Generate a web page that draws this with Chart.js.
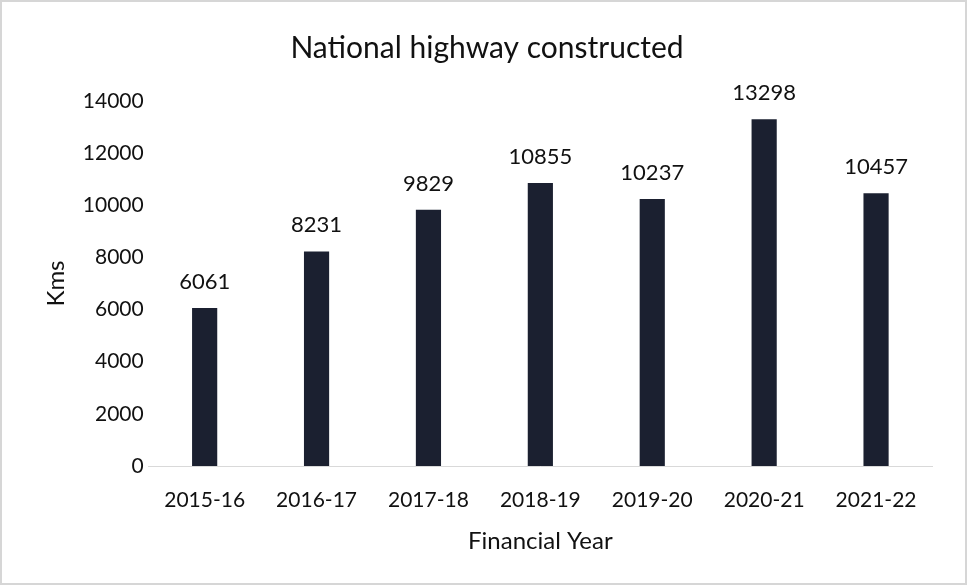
<!DOCTYPE html>
<html>
<head>
<meta charset="utf-8">
<script src="https://cdn.jsdelivr.net/npm/chart.js@4"></script>
<style>
  html, body { margin: 0; padding: 0; background: #fff; }
  #wrap { position: relative; width: 963px; height: 581px; border: 2px solid #d6d6d6; }
</style>
</head>
<body>
<div id="wrap"><canvas id="hwChart"></canvas></div>
<script>
// Chart data
const years = ['2015-16', '2016-17', '2017-18', '2018-19', '2019-20', '2020-21', '2021-22'];
const kmsBuilt = [6061, 8231, 9829, 10855, 10237, 13298, 10457];
const yTicks = [0, 2000, 4000, 6000, 8000, 10000, 12000, 14000];

const FONT = 'Lato, "Open Sans", sans-serif';
const INK = '#111111';

// draw the value above each bar
const valueLabels = {
    id: 'valueLabels',
    afterDatasetsDraw(chart) {
        const ctx = chart.ctx;
        const meta = chart.getDatasetMeta(0);
        ctx.save();
        ctx.font = '22px ' + FONT;
        ctx.fillStyle = INK;
        ctx.textAlign = 'center';
        ctx.textBaseline = 'bottom';
        meta.data.forEach((bar, i) => {
            ctx.fillText(String(kmsBuilt[i]), bar.x, bar.y - 15);
        });
        ctx.restore();
    }
};

new Chart(document.getElementById('hwChart'), {
    type: 'bar',
    data: {
        labels: years,
        datasets: [{
            label: 'Kms',
            data: kmsBuilt,
            backgroundColor: '#1b2030',
            borderWidth: 0,
            barPercentage: 0.225,
            categoryPercentage: 1
        }]
    },
    options: {
        responsive: true,
        maintainAspectRatio: false,
        animation: false,
        layout: { padding: { top: 28, right: 33, bottom: 27, left: 40 } },
        plugins: {
            legend: { display: false },
            tooltip: { enabled: false },
            title: {
                display: true,
                text: 'National highway constructed',
                color: INK,
                font: { family: FONT, size: 30, weight: 'normal' },
                padding: { top: 0, bottom: 35 }
            }
        },
        scales: {
            x: {
                grid: { display: false },
                border: { display: true, color: '#d9d9d9', width: 1 },
                ticks: { color: INK, font: { family: FONT, size: 21 }, padding: 14, maxRotation: 0 },
                title: {
                    display: true,
                    text: 'Financial Year',
                    color: INK,
                    font: { family: FONT, size: 24 },
                    padding: { top: 0, bottom: 0 }
                }
            },
            y: {
                min: 0,
                max: 14000,
                afterBuildTicks(axis) { axis.ticks = yTicks.map(v => ({ value: v })); },
                grid: { display: false, tickLength: 0 },
                border: { display: false },
                ticks: {
                    color: INK,
                    font: { family: FONT, size: 21 },
                    padding: 5,
                    callback: (v) => String(v)
                },
                title: {
                    display: true,
                    text: 'Kms',
                    color: INK,
                    font: { family: FONT, size: 24 },
                    padding: { top: 0, bottom: 7 }
                }
            }
        }
    },
    plugins: [valueLabels]
});
</script>
</body>
</html>
